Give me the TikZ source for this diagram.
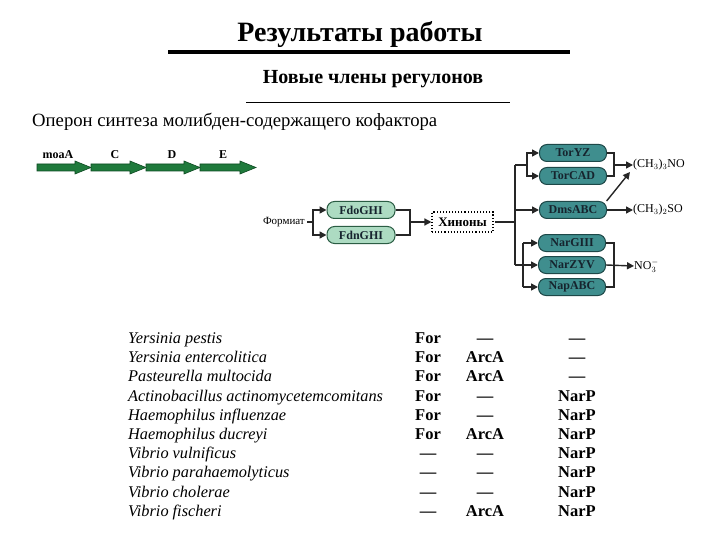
\documentclass[tikz,border=0pt]{standalone}
\usepackage{fontspec}
\setmainfont{Liberation Serif}
\usetikzlibrary{arrows.meta}
\definecolor{gene}{HTML}{1F7A3C}
\definecolor{geneb}{HTML}{0D4A22}
\definecolor{teal1}{HTML}{3F8E8E}
\definecolor{tealb}{HTML}{1D4848}
\definecolor{mint}{HTML}{ADDBC2}
\definecolor{mintb}{HTML}{2B5D44}
\definecolor{btxt}{HTML}{16242E}
\tikzset{
  ln/.style={line width=1.4pt, draw=black!85},
  arr/.style={ln, -{Triangle[length=7pt,width=7pt]}},
  tbox/.style={draw=tealb, fill=teal1, line width=1pt, rounded corners=7.5pt, minimum width=67pt, minimum height=17pt, inner sep=0pt, font=\fontsize{12}{12}\selectfont\bfseries, text=btxt},
  mbox/.style={draw=mintb, fill=mint, line width=1pt, rounded corners=7.5pt, minimum width=68pt, minimum height=17pt, inner sep=0pt, font=\fontsize{12}{12}\selectfont\bfseries, text=btxt},
  genearr/.style={draw=geneb, fill=gene, line width=0.6pt},
  glabel/.style={font=\fontsize{12}{12}\selectfont\bfseries, inner sep=0pt},
  sp/.style={anchor=base west, font=\fontsize{16.3}{16.3}\selectfont\itshape, inner sep=0pt},
  col/.style={anchor=base, font=\fontsize{16.5}{16.5}\selectfont\bfseries, inner sep=0pt},
  small/.style={font=\fontsize{11}{11}\selectfont, inner sep=0pt},
  prod/.style={font=\fontsize{12}{12}\selectfont, inner sep=0pt, anchor=west},
}
\newcommand{\genearrow}[3]{% x0 x1 y
  \filldraw[genearr] (#1,#3-3.5) -- (#2-16,#3-3.5) -- (#2-16,#3-6.5) -- (#2,#3) -- (#2-16,#3+6.5) -- (#2-16,#3+3.5) -- (#1,#3+3.5) -- cycle;}
\begin{document}
\begin{tikzpicture}[x=1pt,y=-1pt]
\useasboundingbox[fill=white] (0,0) rectangle (720,540);
% titles
\node[inner sep=0pt, font=\fontsize{28}{28}\selectfont\bfseries] (title) at (360,35) {Результаты работы};
\draw[line width=4pt] (168,52) -- (570,52);
\node[inner sep=0pt, font=\fontsize{20}{20}\selectfont\bfseries] (sub) at (373,79) {Новые члены регулонов};
\draw[line width=0.9pt] (246,102) -- (510,102);
\node[inner sep=0pt, anchor=west, font=\fontsize{18.7}{18.7}\selectfont] (oper) at (32,122) {Оперон синтеза молибден-содержащего кофактора};
% gene arrows
\genearrow{37}{91}{167.5}
\genearrow{91}{146}{167.5}
\genearrow{146}{200}{167.5}
\genearrow{200}{256}{167.5}
\node[glabel] (gA) at (58,155) {moaA};
\node[glabel] (gC) at (115,155) {C};
\node[glabel] (gD) at (172,155) {D};
\node[glabel] (gE) at (223,155) {E};
% formate
\node[small, anchor=east] (form) at (305,222) {Формиат};
\node[mbox] (fdo) at (361,210) {FdoGHI};
\node[mbox] (fdn) at (361,235) {FdnGHI};
\node[draw, dotted, line width=1.1pt, minimum width=61pt, minimum height=20pt, inner sep=0pt, font=\fontsize{13}{13}\selectfont\bfseries] (hin) at (462.5,222) {Хиноны};
\coordinate (fb) at (313,222);
\coordinate (fj) at (410,222);
\draw[ln] (form.east) ++(2,0) -- (fb);
\draw[arr] (fb) |- (fdo.west);
\draw[arr] (fb) |- (fdn.west);
\draw[ln] (fdo.east) -- (fj |- fdo.east) -- (fj |- fdn.east) -- (fdn.east);
\draw[arr] (fj) -- (hin.west);
% right boxes
\node[tbox] (toryz) at (573,153) {TorYZ};
\node[tbox] (torcad) at (573,176) {TorCAD};
\node[tbox] (dms) at (573,210) {DmsABC};
\node[tbox] (nargiii) at (572,243) {NarGIII};
\node[tbox] (narzyv) at (572,265) {NarZYV};
\node[tbox] (napabc) at (572,287) {NapABC};
% trunk
\coordinate (tr) at (515,222);
\coordinate (tt) at (515,165);
\coordinate (tb) at (515,265);
\coordinate (sb1) at (527,165);
\coordinate (sb2) at (523,243);
\coordinate (sb3) at (523,287);
\draw[ln] (hin.east) ++(1,0) -- (tr);
\draw[ln] (tt) -- (tb);
\draw[ln] (tt) -- (sb1);
\draw[arr] (sb1) |- (toryz.west);
\draw[arr] (sb1) |- (torcad.west);
\draw[arr] (tt |- dms.west) -- (dms.west);
\draw[arr] (tb) -- (narzyv.west);
\draw[ln] (sb2) -- (sb3);
\draw[arr] (sb2) -- (nargiii.west);
\draw[arr] (sb3) -- (napabc.west);
% products
\node[prod] (tmao) at (633,165) {(CH$_3$)$_3$NO};
\node[prod] (dmso) at (633,210) {(CH$_3$)$_2$SO};
\node[prod] (no3) at (634,266) {NO$_3^-$};
\coordinate (rb1) at (614,165);
\coordinate (rb2) at (614,265);
\draw[ln] (toryz.east) -- (rb1 |- toryz.east) -- (rb1 |- torcad.east) -- (torcad.east);
\draw[arr] (rb1) -- (tmao.west);
\draw[arr] (dms.east) -- (dmso.west);
\coordinate (dg) at (630,172);
\draw[arr] (dms.15) -- (dg);
\draw[ln] (nargiii.east) -- (rb2 |- nargiii.east) -- (rb2 |- napabc.east) -- (napabc.east);
\draw[arr] (narzyv.east) -- (no3.west);
% table
\foreach \i/\s/\a/\b/\c in {
 0/Yersinia pestis/For/---/---,
 1/Yersinia entercolitica/For/ArcA/---,
 2/Pasteurella multocida/For/ArcA/---,
 3/Actinobacillus actinomycetemcomitans/For/---/NarP,
 4/Haemophilus influenzae/For/---/NarP,
 5/Haemophilus ducreyi/For/ArcA/NarP,
 6/Vibrio vulnificus/---/---/NarP,
 7/Vibrio parahaemolyticus/---/---/NarP,
 8/Vibrio cholerae/---/---/NarP,
 9/Vibrio fischeri/---/ArcA/NarP}{
 \node[sp] (s\i) at (128,{343.5+19.2*\i}) {\s};
 \node[col] (a\i) at (428,{343.5+19.2*\i}) {\a};
 \node[col] (b\i) at (485,{343.5+19.2*\i}) {\b};
 \node[col] (c\i) at (577,{343.5+19.2*\i}) {\c};
}
\end{tikzpicture}
\end{document}
